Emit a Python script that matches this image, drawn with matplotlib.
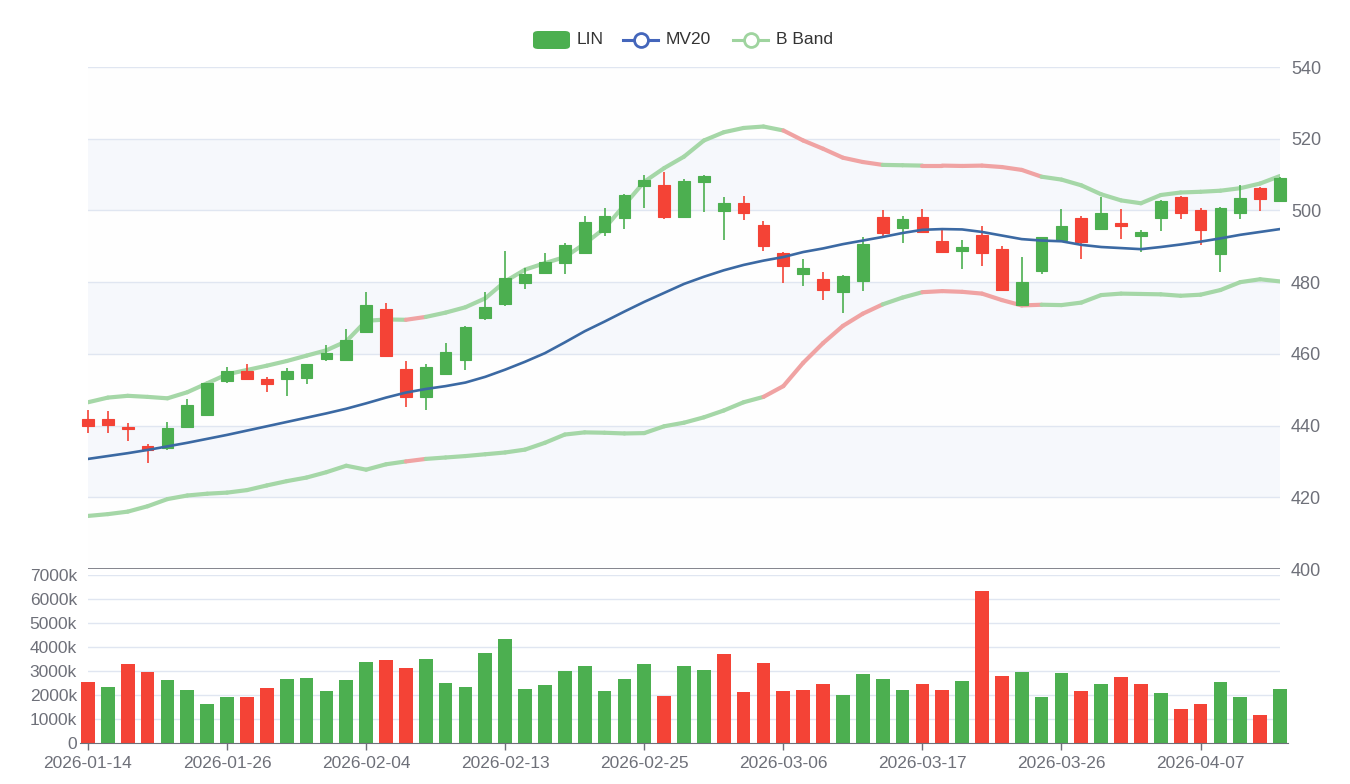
import numpy as np
import matplotlib
matplotlib.use("Agg")
import matplotlib.pyplot as plt
from matplotlib.collections import LineCollection
from matplotlib.patches import FancyBboxPatch, Rectangle
from matplotlib.lines import Line2D

plt.rcParams["font.family"] = ["Liberation Sans", "DejaVu Sans"]

# datos
dates = ["2026-01-14", "2026-01-15", "2026-01-16", "2026-01-20", "2026-01-21", "2026-01-22",
         "2026-01-23", "2026-01-26", "2026-01-27", "2026-01-28", "2026-01-29", "2026-01-30",
         "2026-02-02", "2026-02-03", "2026-02-04", "2026-02-05", "2026-02-06", "2026-02-09",
         "2026-02-10", "2026-02-11", "2026-02-12", "2026-02-13", "2026-02-17", "2026-02-18",
         "2026-02-19", "2026-02-20", "2026-02-23", "2026-02-24", "2026-02-25", "2026-02-26",
         "2026-02-27", "2026-03-02", "2026-03-03", "2026-03-04", "2026-03-05", "2026-03-06",
         "2026-03-09", "2026-03-10", "2026-03-11", "2026-03-12", "2026-03-13", "2026-03-16",
         "2026-03-17", "2026-03-18", "2026-03-19", "2026-03-20", "2026-03-23", "2026-03-24",
         "2026-03-25", "2026-03-26", "2026-03-27", "2026-03-30", "2026-03-31", "2026-04-01",
         "2026-04-02", "2026-04-06", "2026-04-07", "2026-04-08", "2026-04-09", "2026-04-10",
         "2026-04-13"]

opens = [441.8, 441.8, 439.7, 434.3, 433.7, 439.7, 443.0, 452.4, 455.2, 452.9,
         452.9, 453.2, 458.5, 458.3, 466.0, 472.5, 455.8, 448.1, 454.3, 458.3,
         469.9, 473.9, 479.9, 482.6, 485.3, 488.2, 494.1, 497.8, 506.8, 507.1,
         498.3, 508.0, 499.8, 502.0, 495.9, 488.2, 482.3, 480.9, 477.3, 480.4,
         498.1, 495.0, 498.1, 491.5, 488.7, 493.2, 489.2, 473.6, 483.1, 491.8,
         497.8, 494.8, 496.4, 492.9, 497.8, 503.8, 500.0, 487.8, 499.2, 506.2,
         502.7]
closes = [440.0, 440.1, 439.1, 433.2, 439.4, 445.7, 451.8, 455.3, 453.0, 451.5,
          455.2, 457.1, 460.3, 463.9, 473.6, 459.5, 448.1, 456.4, 460.6, 467.6,
          473.0, 481.2, 482.3, 485.5, 490.4, 496.7, 498.5, 504.3, 508.5, 498.3,
          508.3, 509.6, 502.0, 499.2, 490.1, 484.6, 483.9, 477.8, 481.7, 490.6,
          493.8, 497.5, 494.1, 488.5, 489.9, 488.2, 477.8, 480.1, 492.5, 495.7,
          491.1, 499.4, 495.7, 494.1, 502.7, 499.4, 494.5, 500.6, 503.4, 503.1,
          509.0]
lows = [438.0, 437.8, 435.7, 429.6, 433.2, 439.5, 442.8, 451.9, 452.9, 449.3,
        448.3, 451.6, 458.1, 458.0, 465.7, 459.3, 445.3, 444.4, 454.1, 455.5,
        469.4, 473.4, 478.1, 482.4, 482.3, 488.0, 492.9, 494.7, 500.6, 497.6,
        498.1, 499.6, 491.8, 497.3, 488.8, 479.9, 478.9, 475.0, 471.3, 477.6,
        492.7, 491.0, 493.6, 488.3, 483.6, 484.5, 477.5, 473.4, 482.2, 491.6,
        486.5, 494.6, 492.1, 488.5, 494.4, 497.5, 490.4, 482.9, 497.5, 499.8,
        502.5]
highs = [444.4, 444.0, 440.6, 434.8, 441.1, 447.3, 452.0, 456.4, 457.1, 453.6,
         456.0, 457.3, 462.5, 466.9, 477.3, 474.3, 458.1, 457.2, 463.0, 467.8,
         477.3, 488.8, 483.9, 488.2, 490.8, 498.5, 500.6, 504.5, 509.9, 510.8,
         508.8, 509.9, 503.7, 504.0, 497.1, 488.5, 486.5, 482.9, 481.9, 492.7,
         500.0, 498.5, 500.3, 494.5, 491.8, 495.7, 490.1, 486.9, 492.7, 500.3,
         498.5, 503.8, 500.3, 494.5, 502.9, 504.0, 500.6, 500.9, 507.1, 506.4,
         509.4]

# volumen en miles
volume = [2540, 2350, 3290, 2940, 2640, 2220, 1640, 1930, 1930, 2290,
          2680, 2710, 2170, 2630, 3390, 3460, 3140, 3510, 2490, 2350,
          3750, 4350, 2250, 2430, 3000, 3190, 2150, 2670, 3310, 1960,
          3210, 3040, 3710, 2110, 3320, 2180, 2220, 2470, 1990, 2890,
          2670, 2220, 2470, 2190, 2600, 6320, 2810, 2970, 1920, 2930,
          2150, 2460, 2760, 2470, 2070, 1400, 1610, 2540, 1900, 1170,
          2250]

mv20 = [430.7, 431.5, 432.3, 433.2, 434.2, 435.2, 436.3, 437.4, 438.6, 439.8,
        441.0, 442.2, 443.4, 444.7, 446.2, 447.8, 449.2, 450.2, 451.0, 452.0,
        453.6, 455.6, 457.8, 460.2, 463.2, 466.3, 469.0, 471.8, 474.5, 477.0,
        479.5, 481.5, 483.3, 484.8, 486.0, 487.0, 488.4, 489.4, 490.6, 491.6,
        492.6, 493.7, 494.6, 494.8, 494.7, 494.0, 493.0, 492.0, 491.6, 491.4,
        490.4, 489.8, 489.5, 489.2, 489.8, 490.5, 491.3, 492.2, 493.2, 494.0,
        494.8]
upper = [446.5, 447.8, 448.3, 448.0, 447.6, 449.3, 451.8, 454.3, 455.5, 456.7,
         458.0, 459.5, 461.0, 463.5, 469.2, 469.6, 469.5, 470.3, 471.5, 473.0,
         475.5, 480.2, 483.5, 485.3, 487.0, 490.7, 495.0, 501.5, 508.0, 511.8,
         515.0, 519.5, 521.8, 523.0, 523.4, 522.3, 519.5, 517.2, 514.7, 513.5,
         512.7, 512.6, 512.5, 512.5, 512.4, 512.5, 512.1, 511.3, 509.4, 508.6,
         507.0, 504.5, 502.8, 502.0, 504.3, 505.0, 505.2, 505.5, 506.2, 507.5,
         509.6]
lower = [414.8, 415.3, 416.0, 417.5, 419.5, 420.5, 421.0, 421.3, 422.0, 423.3,
         424.5, 425.5, 427.0, 428.8, 427.7, 429.2, 430.0, 430.7, 431.1, 431.5,
         432.0, 432.5, 433.3, 435.2, 437.5, 438.1, 438.0, 437.8, 437.9, 439.8,
         440.8, 442.3, 444.2, 446.5, 448.0, 451.0, 457.5, 463.0, 467.8, 471.2,
         473.8, 475.7, 477.2, 477.5, 477.3, 476.8, 475.0, 473.5, 473.7, 473.6,
         474.3, 476.4, 476.8, 476.7, 476.6, 476.2, 476.5, 477.8, 480.0, 480.8,
         480.2]
# tramos de la banda en rojo (indice del tramo i -> i+1)
upper_red = [16, 35, 36, 37, 38, 39, 42, 43, 44, 45, 46, 47]
lower_red = [16, 34, 35, 36, 37, 38, 39, 42, 43, 44, 45, 46, 47]

UP = "#4caf50"
DOWN = "#f44336"
BAND_G = "#a5d7a7"
BAND_R = "#f0a3a3"
MV_C = "#3b69a3"
AXC = "#6e7079"
GRID = "#e0e6f1"
FS = 12.5

x = np.arange(len(dates))
o = np.array(opens); c = np.array(closes)
lo = np.array(lows); hi = np.array(highs)

fig = plt.figure(figsize=(13.5, 7.84), dpi=100)
W, H = 1350, 784
ax = fig.add_axes([88 / W, 1 - 569 / H, 1192 / W, 502 / H])
axv = fig.add_axes([88 / W, 1 - 743 / H, 1192 / W, 168 / H])

# fondo con bandas alternas
for k, y0 in enumerate(range(400, 540, 20)):
    col = "#fefefe" if k % 2 == 0 else "#f6f8fc"
    ax.axhspan(y0, y0 + 20, color=col, zorder=0, lw=0)
for yv in range(420, 541, 20):
    ax.axhline(yv, color=GRID, lw=1, zorder=1)
ax.axhline(400, color=AXC, lw=1.2, zorder=1)

# velas
body_w = 0.59
for i in x:
    col = UP if c[i] >= o[i] else DOWN
    ax.plot([i, i], [lo[i], hi[i]], color=col, lw=1.2, zorder=3, clip_on=False,
            solid_capstyle="butt")
    b0 = min(o[i], c[i]); bh = max(abs(c[i] - o[i]), 0.25)
    ax.add_patch(Rectangle((i - body_w / 2, b0), body_w, bh, facecolor=col,
                           edgecolor=col, lw=0.8, zorder=4, clip_on=False))

def band(vals, red):
    pts = np.column_stack([x, vals])
    segs = [pts[i:i + 2] for i in range(len(x) - 1)]
    cols = [BAND_R if i in red else BAND_G for i in range(len(x) - 1)]
    lc = LineCollection(segs, colors=cols, linewidths=3.0, capstyle="round",
                        joinstyle="round", zorder=2)
    ax.add_collection(lc)

band(upper, upper_red)
band(lower, lower_red)
ax.plot(x, mv20, color=MV_C, lw=1.9, zorder=5)

ax.set_xlim(0, len(x) - 1)
ax.set_ylim(400, 540)
ax.yaxis.tick_right()
ax.set_yticks(range(400, 541, 20))
ax.tick_params(axis="y", length=0, pad=8, labelsize=13, labelcolor=AXC)
ax.set_xticks([])
for s in ax.spines.values():
    s.set_visible(False)

# volumen
up_day = np.r_[False, c[1:] >= c[:-1]]
vcols = [UP if u else DOWN for u in up_day]
for yv in range(1000, 7001, 1000):
    axv.axhline(yv, color=GRID, lw=1, zorder=0)
axv.bar(x, volume, width=0.69, color=vcols, zorder=2, clip_on=False)
axv.set_xlim(0, len(x) - 1)
axv.set_ylim(0, 7000)
axv.set_yticks(range(0, 7001, 1000))
axv.set_yticklabels(["0"] + [f"{v}k" for v in range(1000, 7001, 1000)])
axv.tick_params(axis="y", length=0, pad=8, labelsize=FS, labelcolor=AXC)
tick_idx = list(range(0, len(x), 7))
axv.set_xticks(tick_idx)
axv.set_xticklabels([dates[i] for i in tick_idx])
axv.tick_params(axis="x", length=5, width=1, color=AXC, labelsize=FS,
                labelcolor=AXC, pad=4)
for s in ["top", "right", "left"]:
    axv.spines[s].set_visible(False)
axv.spines["bottom"].set_color(AXC)
axv.spines["bottom"].set_bounds(-0.4, len(x) - 0.6)

# leyenda
fig.patches.append(FancyBboxPatch((533 / W, 1 - 49 / H), 37 / W, 18 / H,
                                  boxstyle="round,pad=0,rounding_size=0.004",
                                  transform=fig.transFigure, facecolor=UP,
                                  edgecolor="none"))
fig.text(577 / W, 1 - 40 / H, "LIN", fontsize=FS, color="#333333", va="center")
for x0, colr, lab in [(623, "#4466bb", "MV20"), (733, "#9fd49f", "B Band")]:
    fig.lines.append(Line2D([x0 / W, (x0 + 35) / W], [1 - 40 / H] * 2, color=colr,
                            lw=2.2, transform=fig.transFigure))
    fig.lines.append(Line2D([(x0 + 17.5) / W], [1 - 40 / H], marker="o",
                            markersize=10, markerfacecolor="white",
                            markeredgecolor=colr, markeredgewidth=2,
                            transform=fig.transFigure))
    fig.text((x0 + 43) / W, 1 - 40 / H, lab, fontsize=FS, color="#333333",
             va="center")

fig.savefig("out.png", dpi=100, facecolor="white")
